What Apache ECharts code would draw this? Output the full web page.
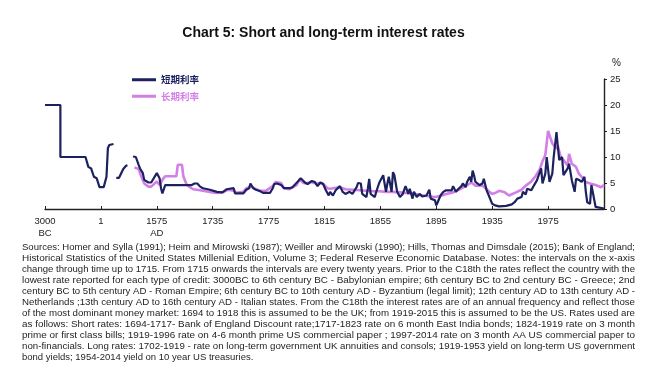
<!DOCTYPE html>
<html>
<head>
<meta charset="utf-8">
<script src="https://cdn.jsdelivr.net/npm/echarts@6/dist/echarts.min.js"></script>
<style>
  html, body { margin: 0; padding: 0; background: #ffffff; }
  #chart { width: 647px; height: 368px; }
</style>
</head>
<body>
<div id="chart"></div>
<script>
// ---------- data ----------
const axisBreakYears = [-3000, 1, 1575, 1735, 2015];
const tickLabels = ['3000\nBC', '1', '1575\nAD', '1735', '1775', '1815', '1855', '1895', '1935', '1975', ''];
const seriesNames = ['短期利率', '长期利率'];

const shortYears = [
  -3000, -2200, -2200, -855, -680, -498, -375, -230, -91, 66, 141, 206, 254, 366,
  395,
  423, 515, 628, 703, 768,
  840,
  909, 1004, 1049, 1117, 1190, 1237, 1330, 1378, 1426, 1566,
  1582, 1588, 1591, 1598, 1660, 1664, 1674, 1684, 1693, 1698, 1707, 1726,
  1738, 1742, 1745, 1746, 1750, 1751, 1752, 1757, 1759, 1761, 1762, 1764, 1766, 1769,
  1771, 1776, 1778, 1779, 1781, 1784, 1786, 1790, 1792, 1796, 1798, 1801, 1803, 1806,
  1808, 1810, 1812, 1814, 1816, 1818, 1819, 1821, 1823, 1826, 1828, 1830, 1833, 1835,
  1838, 1839, 1841, 1842, 1845, 1846, 1847, 1848, 1851, 1852, 1854, 1855, 1857, 1859,
  1860, 1861, 1863, 1864, 1865, 1866, 1867, 1869, 1871, 1873, 1875, 1876, 1878, 1879,
  1881, 1883, 1885, 1888, 1890, 1891, 1894, 1895, 1896, 1898, 1900, 1902, 1903, 1906,
  1907, 1909, 1911, 1913, 1914, 1916, 1917, 1919, 1920, 1921, 1922, 1923, 1926, 1928,
  1929, 1931, 1933, 1935, 1937, 1940, 1945, 1949, 1951, 1953, 1956, 1957, 1959, 1960,
  1963, 1965, 1967, 1970, 1971, 1973, 1974, 1976, 1978, 1979, 1981, 1982, 1983, 1985,
  1986, 1989, 1990, 1992, 1994, 1995, 1997, 1999, 2001, 2002, 2003, 2005, 2006, 2007,
  2009, 2010, 2015
];
const shortRates = [
  20, 20, 10, 10, 8.1, 7.8, 6.2, 5.9, 4.2, 4.2, 6.2, 11.7, 12.3, 12.5,
  null,
  6.0, 6.0, 7.7, 8.3, 8.4,
  null,
  10.1, 10.0, 8.5, 7.8, 6.9, 5.6, 5.1, 5.0, 5.1, 6.9,
  5.9, 4.0, 3.0, 4.6, 4.6, 4.9, 4.6, 4.9, 4.9, 4.3, 4.0, 3.7,
  3.3, 3.2, 3.8, 4.0, 4.0, 3.0, 3.3, 3.0, 3.7, 4.0, 4.9, 4.0, 3.7, 3.4,
  3.1, 3.1, 4.0, 4.8, 4.9, 4.6, 4.0, 4.0, 4.2, 5.3, 5.9, 5.1, 4.8, 5.4,
  5.2, 4.4, 5.1, 4.8, 3.6, 2.6, 3.3, 2.6, 3.6, 4.4, 3.3, 2.9, 3.3, 2.9,
  4.2, 5.0, 4.9, 2.9, 2.3, 3.9, 5.8, 2.9, 2.3, 3.3, 4.9, 5.5, 6.5, 3.3,
  4.9, 6.2, 3.3, 7.1, 6.5, 6.8, 3.3, 2.3, 2.9, 4.4, 2.9, 3.9, 2.0, 3.3,
  2.3, 2.9, 2.4, 2.6, 3.7, 2.0, 1.7, 0.7, 1.3, 2.6, 3.3, 3.6, 3.3, 3.6,
  4.4, 3.3, 3.9, 4.4, 4.9, 4.2, 5.2, 6.2, 5.2, 7.4, 6.5, 5.2, 4.6, 4.9,
  5.8, 3.6, 2.3, 1.0, 0.7, 0.5, 0.6, 0.9, 1.3, 2.0, 2.3, 3.3, 2.8, 3.9,
  3.6, 4.6, 5.5, 7.8, 4.9, 6.8, 10.0, 5.2, 6.8, 10.0, 14.8, 11.9, 9.4, 10.0,
  6.5, 7.8, 8.7, 5.5, 3.3, 5.8, 5.6, 5.2, 6.2, 3.3, 1.3, 1.0, 4.6, 4.9,
  0.4, 0.1, 0.1
];

const longYears = [
  928, 1049, 1145, 1209, 1330, 1378, 1426, 1566,
  1584, 1593, 1598, 1631, 1636, 1646, 1650, 1660, 1669, 1679, 1698, 1717,
  1735, 1738, 1742, 1746, 1750, 1752, 1757, 1759, 1763, 1766, 1769, 1773,
  1778, 1780, 1784, 1786, 1790, 1795, 1797, 1800, 1802, 1805, 1809, 1813,
  1815, 1817, 1819, 1826, 1830, 1835, 1840, 1845, 1850, 1854, 1859, 1864,
  1869, 1873, 1878, 1883, 1888, 1894, 1898, 1902, 1907, 1911, 1916, 1920,
  1923, 1928, 1931, 1933, 1935, 1938, 1940, 1944, 1947, 1952, 1956, 1959,
  1963, 1966, 1969, 1971, 1973, 1975, 1976, 1978, 1981, 1982, 1984, 1986,
  1989, 1990, 1992, 1995, 1997, 1999, 2002, 2005, 2009, 2013, 2015
];
const longRates = [
  8.0, 7.7, 6.2, 4.9, 4.3, 4.3, 4.3, 5.3,
  4.6, 5.6, 6.3, 6.3, 8.5, 8.5, 6.3, 4.9, 4.3, 3.8, 3.6, 3.4,
  3.2, 3.1, 3.2, 3.7, 3.5, 3.1, 3.3, 4.0, 4.3, 3.8, 3.5, 3.5,
  4.4, 5.2, 5.0, 4.0, 3.8, 4.6, 5.7, 5.0, 4.9, 5.2, 4.9, 5.0,
  4.6, 4.0, 3.9, 4.2, 3.8, 3.7, 3.6, 3.5, 3.4, 3.4, 3.3, 3.3,
  3.2, 3.1, 3.0, 2.7, 2.5, 2.3, 2.5, 2.9, 3.2, 3.7, 4.4, 5.1,
  4.5, 4.5, 3.8, 3.3, 2.9, 3.2, 3.5, 3.2, 2.6, 3.2, 3.7, 4.5,
  5.3, 6.3, 7.6, 9.2, 10.4, 15.0, 14.2, 12.6, 11.6, 12.1, 10.0, 9.4,
  8.4, 10.6, 8.7, 8.1, 6.8, 6.2, 5.2, 4.9, 4.6, 4.2, 4.6
];

const sourceLines = [
  'Sources: Homer and Sylla (1991); Heim and Mirowski (1987); Weiller and Mirowski (1990); Hills, Thomas and Dimsdale (2015); Bank of England;',
  'Historical Statistics of the United States Millenial Edition, Volume 3; Federal Reserve Economic Database. Notes: the intervals on the x-axis',
  'change through time up to 1715. From 1715 onwards the intervals are every twenty years. Prior to the C18th the rates reflect the country with the',
  'lowest rate reported for each type of credit: 3000BC to 6th century BC - Babylonian empire; 6th century BC to 2nd century BC - Greece; 2nd',
  'century BC to 5th century AD - Roman Empire; 6th century BC to 10th century AD - Byzantium (legal limit); 12th century AD to 13th century AD -',
  'Netherlands ;13th century AD to 16th century AD - Italian states. From the C18th the interest rates are of an annual frequency and reflect those',
  'of the most dominant money market: 1694 to 1918 this is assumed to be the UK; from 1919-2015 this is assumed to be the US. Rates used are',
  'as follows: Short rates: 1694-1717- Bank of England Discount rate;1717-1823 rate on 6 month East India bonds; 1824-1919 rate on 3 month',
  'prime or first class bills; 1919-1996 rate on 4-6 month prime US commercial paper ; 1997-2014 rate on 3 month AA US commercial paper to',
  'non-financials. Long rates: 1702-1919 - rate on long-term government UK annuities and consols; 1919-1953 yield on long-term US government',
  'bond yields; 1954-2014 yield on 10 year US treasuries.'
];

// ---------- build the piecewise category axis ----------
const SLOTS_PER_TICK = 40;
const catYears = [axisBreakYears[0]];
for (let s = 0; s < 3; s++) {
  const a = s === 0 ? axisBreakYears[0] : (s === 1 ? 0 : axisBreakYears[s]);
  const b = s === 0 ? 0 : axisBreakYears[s + 1];
  for (let i = 1; i <= SLOTS_PER_TICK; i++) catYears.push(Math.round(a + (b - a) * i / SLOTS_PER_TICK));
}
for (let y = axisBreakYears[3] + 1; y <= axisBreakYears[4]; y++) catYears.push(y);
const catNames = catYears.map(String);

function nearestCat(year) {
  let best = 0, bd = Infinity;
  for (let i = 0; i < catYears.length; i++) {
    const d = Math.abs(catYears[i] - year);
    if (d < bd) { bd = d; best = i; }
  }
  return catNames[best];
}
function pairs(years, vals) {
  return years.map((y, i) => [nearestCat(y), vals[i] === null ? '-' : vals[i]]);
}

const NAVY = '#1c2160';
const VIOLET = '#d27fe6';

// ---------- source text, justified line by line ----------
const TEXT_LEFT = 22, TEXT_RIGHT = 635, TEXT_TOP = 247, TEXT_STEP = 11;
const TEXT_FONT_SIZE = 9.5, TEXT_FAMILY = 'Arial, "Liberation Sans", sans-serif';
const measureCtx = document.createElement('canvas').getContext('2d');
measureCtx.font = TEXT_FONT_SIZE + 'px ' + TEXT_FAMILY;
const textGraphics = sourceLines.map((line, i) => {
  const w = measureCtx.measureText(line).width;
  const last = i === sourceLines.length - 1;
  const sx = last ? 1 : (TEXT_RIGHT - TEXT_LEFT) / w;
  return {
    type: 'text',
    x: TEXT_LEFT,
    y: TEXT_TOP + i * TEXT_STEP,
    scaleX: sx,
    style: {
      text: line,
      fontSize: TEXT_FONT_SIZE,
      fontFamily: TEXT_FAMILY,
      fill: '#1e1e1e',
      textAlign: 'left',
      textVerticalAlign: 'middle'
    }
  };
});

const chart = echarts.init(document.getElementById('chart'), null, { renderer: 'canvas' });
chart.setOption({
  animation: false,
  backgroundColor: '#ffffff',
  title: {
    text: 'Chart 5: Short and long-term interest rates',
    left: 'center',
    top: 21,
    textStyle: { fontSize: 14, fontWeight: 'bold', color: '#111111', fontFamily: 'Arial, "Liberation Sans", sans-serif' }
  },
  legend: {
    orient: 'vertical',
    left: 127,
    top: 70,
    itemGap: 7,
    itemWidth: 24,
    itemHeight: 3,
    icon: 'rect',
    textStyle: { fontSize: 9.5, fontWeight: 'bold', fontFamily: '"Noto Sans CJK SC", sans-serif' },
    data: [
      { name: seriesNames[0], textStyle: { color: NAVY } },
      { name: seriesNames[1], textStyle: { color: VIOLET } }
    ]
  },
  grid: { left: 45, right: 43, top: 79, bottom: 159, containLabel: false },
  xAxis: {
    type: 'category',
    data: catNames,
    boundaryGap: false,
    axisLine: { lineStyle: { color: '#222222', width: 1.4 } },
    axisTick: {
      inside: true, length: 3,
      interval: (idx) => idx % SLOTS_PER_TICK === 0,
      lineStyle: { color: '#222222' }
    },
    axisLabel: {
      interval: (idx) => idx % SLOTS_PER_TICK === 0 && idx < catNames.length - 1,
      formatter: (val, idx) => tickLabels[Math.round(idx / SLOTS_PER_TICK)] || '',
      fontSize: 9.5,
      lineHeight: 12,
      margin: 6,
      color: '#222222',
      fontFamily: 'Arial, "Liberation Sans", sans-serif'
    },
    splitLine: { show: false }
  },
  yAxis: {
    type: 'value',
    position: 'right',
    min: 0, max: 25, interval: 5,
    name: '%',
    nameLocation: 'end',
    nameGap: 11,
    nameTextStyle: { fontSize: 10, color: '#222222', align: 'left', padding: [0, 0, 0, 8], fontFamily: 'Arial, "Liberation Sans", sans-serif' },
    axisLine: { show: true, lineStyle: { color: '#222222', width: 1.4 } },
    axisTick: { show: true, length: 3, lineStyle: { color: '#222222' } },
    axisLabel: { fontSize: 9.5, margin: 6, color: '#222222', fontFamily: 'Arial, "Liberation Sans", sans-serif' },
    splitLine: { show: false }
  },
  series: [
    {
      name: seriesNames[0],
      type: 'line',
      data: pairs(shortYears, shortRates),
      showSymbol: false,
      connectNulls: false,
      z: 3,
      lineStyle: { color: NAVY, width: 2.2 },
      itemStyle: { color: NAVY }
    },
    {
      name: seriesNames[1],
      type: 'line',
      data: pairs(longYears, longRates),
      showSymbol: false,
      z: 2,
      lineStyle: { color: VIOLET, width: 2.6 },
      itemStyle: { color: VIOLET }
    }
  ],
  graphic: textGraphics
});
</script>
</body>
</html>
